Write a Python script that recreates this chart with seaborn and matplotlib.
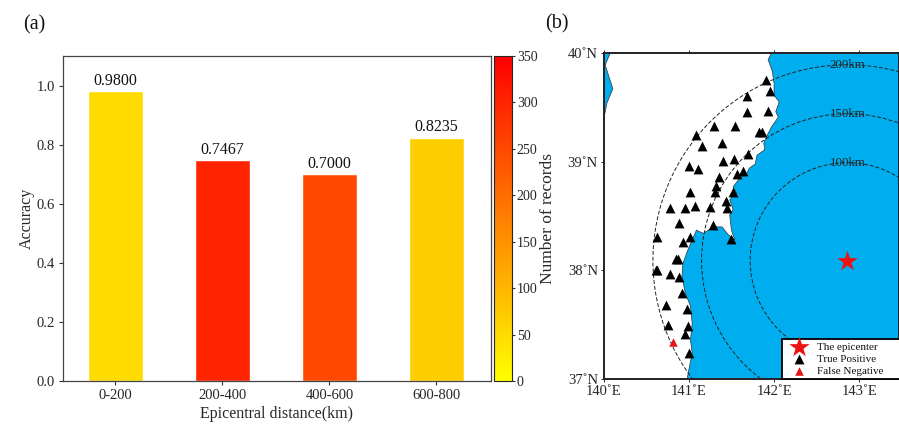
import numpy as np
import pandas as pd
import matplotlib
matplotlib.use("Agg")
import matplotlib.pyplot as plt
from matplotlib.cm import ScalarMappable
from matplotlib.colors import Normalize
from matplotlib.patches import Ellipse, Polygon
import seaborn as sns

# ================================
# Data
# ================================
dist_bins = ["0-200", "200-400", "400-600", "600-800"]
accuracy = [0.9800, 0.7467, 0.7000, 0.8235]
n_records = [50, 300, 250, 68]

# stations
tp_lon = [141.91, 141.95, 141.68, 141.93, 141.68, 141.30, 141.54, 141.82, 141.86, 141.09,
          141.39, 141.15, 141.70, 141.40, 141.53, 141.00, 141.11, 141.63, 141.57, 141.35,
          141.32, 141.31, 141.02, 141.52, 141.44, 140.78, 140.96, 141.07, 141.25, 141.45,
          140.88, 141.28, 140.63, 141.02, 141.50, 140.93, 140.85, 140.87, 140.61, 140.63,
          140.78, 140.89, 140.92, 140.73, 140.98, 140.76, 140.99, 140.96, 141.00]
tp_lat = [39.75, 39.65, 39.60, 39.47, 39.46, 39.33, 39.33, 39.27, 39.27, 39.25,
          39.17, 39.14, 39.07, 39.01, 39.02, 38.96, 38.93, 38.91, 38.89, 38.86,
          38.78, 38.72, 38.72, 38.72, 38.64, 38.57, 38.57, 38.59, 38.58, 38.57,
          38.44, 38.42, 38.31, 38.31, 38.29, 38.26, 38.10, 38.10, 38.00, 38.00,
          37.97, 37.94, 37.79, 37.68, 37.64, 37.50, 37.49, 37.41, 37.24]
fn_lon = [140.81]
fn_lat = [37.34]
epi_lon = 142.86
epi_lat = 38.09

# east coast, north to south
coast_lon = [141.97, 141.93, 141.98, 142.00, 142.00, 142.06, 142.02, 142.05, 141.97, 141.91,
             141.88, 141.89, 141.80, 141.78, 141.71, 141.68, 141.60, 141.52, 141.56, 141.48,
             141.52, 141.48, 141.50, 141.54, 141.46, 141.39, 141.29, 141.17, 141.09, 141.04,
             140.98, 140.93, 140.92, 140.96, 141.02, 141.04, 141.02, 141.04, 140.98]
coast_lat = [40.00, 39.94, 39.83, 39.72, 39.61, 39.55, 39.46, 39.41, 39.32, 39.23,
             39.17, 39.11, 39.06, 38.98, 38.94, 38.89, 38.85, 38.77, 38.71, 38.65,
             38.56, 38.51, 38.37, 38.28, 38.33, 38.40, 38.40, 38.34, 38.37, 38.28,
             38.17, 38.06, 37.94, 37.79, 37.67, 37.51, 37.36, 37.24, 37.00]
# west edge water, south to north
west_lon = [140.00, 140.00, 140.04, 140.11, 140.02, 140.08]
west_lat = [37.00, 39.38, 39.54, 39.67, 39.89, 40.00]

radii_km = [100, 150, 200]
lon_ticks = [140, 141, 142, 143]
lat_ticks = [37, 38, 39, 40]

# ================================
# Setup
# ================================
sns.set_theme(style="ticks")
plt.rcParams["font.family"] = ["Liberation Serif", "DejaVu Serif"]
plt.rcParams["text.color"] = "#111111"

W, H = 899, 426
fig = plt.figure(figsize=(W / 100, H / 100), dpi=100)

def px_axes(left, top, right, bottom):
    return fig.add_axes([left / W, 1 - bottom / H, (right - left) / W, (bottom - top) / H])

# ================================
# Panel (a)
# ================================
ax = px_axes(63, 56, 491, 381)
cax = px_axes(494, 56, 512, 381)
norm = Normalize(0, 350)
cmap = plt.get_cmap("autumn_r")

df = pd.DataFrame({"bin": dist_bins, "acc": accuracy})
sns.barplot(data=df, x="bin", y="acc", hue="bin", legend=False, ax=ax, width=0.51,
            palette=[cmap(norm(n)) for n in n_records], saturation=1)
for i, v in enumerate(accuracy):
    ax.text(i, v + 0.008, f"{v:.4f}", ha="center", va="bottom", fontsize=11.5)
ax.set_xlim(-0.49, 3.51)
ax.set_ylim(0, 1.1)
ax.set_yticks(np.arange(0, 1.01, 0.2))
ax.set_xlabel("Epicentral distance(km)", fontsize=11.5, labelpad=3)
ax.set_ylabel("Accuracy", fontsize=11.5, labelpad=1)
ax.tick_params(labelsize=10.5, length=3, width=0.8, color="#333333", pad=3)
for s in ax.spines.values():
    s.set_linewidth(0.9)
    s.set_color("#444444")

cb = fig.colorbar(ScalarMappable(norm=norm, cmap=cmap), cax=cax)
cb.set_ticks(range(0, 351, 50))
cb.ax.tick_params(labelsize=10, length=2.5, width=0.8, color="#333333", pad=1)
cb.set_label("Number of records", fontsize=12.5, labelpad=2)
cb.outline.set_linewidth(0.8)

# ================================
# Panel (b)
# ================================
sea = "#00AEEF"
mp = px_axes(603.5, 53, 899, 379)
mp.set_facecolor(sea)
mp.set_xlim(140, 143.465)
mp.set_ylim(37, 40)

land = list(zip(coast_lon, coast_lat)) + list(zip(west_lon, west_lat))
mp.add_patch(Polygon(land, closed=True, fc="white", ec="#333333", lw=0.5, zorder=1))

for r in radii_km:
    # roughly 87.7 km per degree lon and 111 km per degree lat at this latitude
    mp.add_patch(Ellipse((epi_lon, epi_lat), 2 * r / 87.7, 2 * r / 111, fc="none", ec="#222222",
                         lw=0.7, ls=(0, (4, 2)), zorder=2))
    mp.text(epi_lon, epi_lat + r / 111, f"{r}km", ha="center", va="center", fontsize=9.3,
            color="#222222", zorder=3)

sns.scatterplot(x=tp_lon, y=tp_lat, marker="^", color="black", s=50, linewidth=0, ax=mp, zorder=4,
                label="True Positive")
sns.scatterplot(x=fn_lon, y=fn_lat, marker="^", color="#E8141C", s=38, linewidth=0, ax=mp, zorder=4,
                label="False Negative")
sns.scatterplot(x=[epi_lon], y=[epi_lat], marker="*", color="#EE1111", s=240, linewidth=0, ax=mp, zorder=4,
                label="The epicenter")

h, l = mp.get_legend_handles_labels()
order = [2, 0, 1]
leg = mp.legend([h[i] for i in order], [l[i] for i in order], loc="lower left",
                bbox_to_anchor=(0.603, 0.0, 0.42, 0.125), mode="expand", borderaxespad=0,
                fontsize=8, frameon=True, fancybox=False, framealpha=1, edgecolor="black",
                labelspacing=0.22, borderpad=0.25, handlelength=2.6, handletextpad=0.3, scatterpoints=1)
leg.get_frame().set_linewidth(1.3)
leg.set_zorder(6)

mp.set_xticks(lon_ticks)
mp.set_xticklabels([f"{t}\u02daE" for t in lon_ticks])
mp.set_yticks(lat_ticks)
mp.set_yticklabels([f"{t}\u02daN" for t in lat_ticks])
mp.tick_params(labelsize=10.5, length=2.5, width=0.7, top=True, pad=1.5)
for s in mp.spines.values():
    s.set_linewidth(1.4)
    s.set_color("#222222")

fig.text(23 / W, 1 - 25 / H, "(a)", fontsize=14.5, va="center")
fig.text(545 / W, 1 - 24 / H, "(b)", fontsize=14.5, va="center")

fig.savefig("out.png", dpi=100)
